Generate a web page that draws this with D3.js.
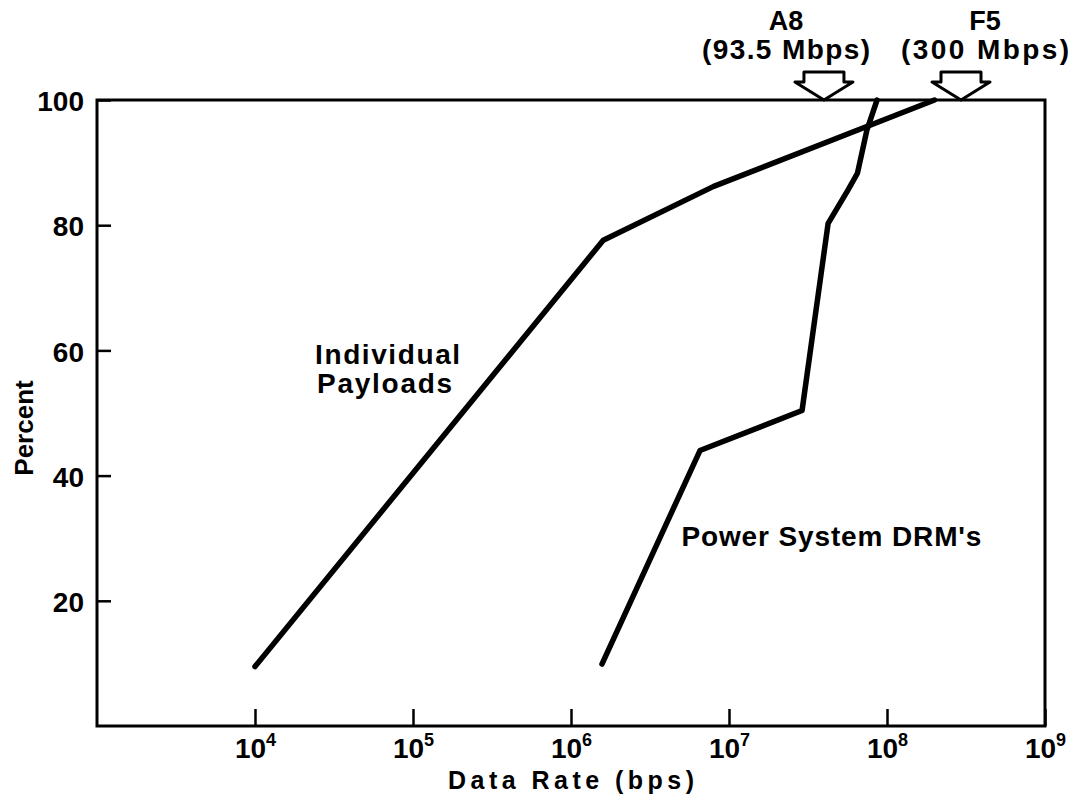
<!DOCTYPE html>
<html>
<head>
<meta charset="utf-8">
<script src="https://cdn.jsdelivr.net/npm/d3@7"></script>
<style>
    body { margin: 0; background: #fff; }
    svg { display: block; font-family: "Liberation Sans", Arial, Helvetica, sans-serif; font-weight: bold; }
</style>
</head>
<body>
<div id="chart"></div>
<script>
// values
const xTickValues = [1e4, 1e5, 1e6, 1e7, 1e8, 1e9];
const yTickValues = [20, 40, 60, 80, 100];

// Individual Payloads curve
const payloadRate = [1e4, 1.6e6, 8e6, 2e8];
const payloadPercent = [9.5, 77.6, 86.2, 100];

// Power System DRM's curve
const drmRate = [1.57e6, 6.55e6, 2.9e7, 4.24e7, 5.66e7, 6.5e7, 7.46e7, 8.65e7];
const drmPercent = [9.9, 44, 50.4, 80.3, 85.6, 88.3, 95.2, 100];

// arrows on the top edge
const markerNames = ["A8", "F5"];
const markerRates = ["(93.5 Mbps)", "(300 Mbps)"];
const markerValues = [3.99e7, 2.94e8];

const width = 1074;
const height = 802;

const svg = d3.select("#chart")
    .append("svg")
    .attr("width", width)
    .attr("height", height);

// scales
const x = d3.scaleLog()
    .domain([1e3, 1e9])
    .range([97, 1045]);

const y = d3.scaleLinear()
    .domain([0, 100])
    .range([726, 100]);

const x0 = x.range()[0], x1 = x.range()[1];
const y0 = y.range()[0], y1 = y.range()[1];

// frame
svg.append("rect")
    .attr("x", x0)
    .attr("y", y1)
    .attr("width", x1 - x0)
    .attr("height", y0 - y1)
    .attr("fill", "none")
    .attr("stroke", "#000")
    .attr("stroke-width", 3);

// y axis, ticks pointing inward
svg.append("g")
    .attr("transform", `translate(${x0},0)`)
    .call(d3.axisLeft(y).tickValues(yTickValues).tickSize(-14).tickPadding(13))
    .attr("font-family", null)
    .attr("font-size", null)
    .call(g => g.select(".domain").remove())
    .call(g => g.selectAll(".tick line").attr("stroke", "#000").attr("stroke-width", 2.5))
    .call(g => g.selectAll(".tick text")
        .attr("fill", "#000")
        .attr("font-size", 28)
        .attr("dy", "0.38em"));

// x axis, ticks pointing up, labels as powers of ten
svg.append("g")
    .attr("transform", `translate(0,${y0})`)
    .call(d3.axisBottom(x).tickValues(xTickValues).tickSize(-17).tickFormat(""))
    .attr("font-family", null)
    .attr("font-size", null)
    .call(g => g.select(".domain").remove())
    .call(g => g.selectAll(".tick line").attr("stroke", "#000").attr("stroke-width", 2.5))
    .call(g => g.selectAll(".tick text")
        .attr("fill", "#000")
        .attr("y", 32)
        .attr("dy", 0)
        .each(function(d) {
            const t = d3.select(this);
            t.append("tspan").attr("font-size", 28).text("10");
            t.append("tspan")
                .attr("font-size", 18)
                .attr("dy", -12)
                .text(Math.round(Math.log10(d)));
        }));

// axis titles
svg.append("text")
    .attr("x", (x0 + x1) / 2)
    .attr("y", 789)
    .attr("text-anchor", "middle")
    .attr("font-size", 25)
    .attr("textLength", 246)
    .attr("lengthAdjust", "spacing")
    .text("Data Rate (bps)");

svg.append("text")
    .attr("transform", `translate(33,${(y0 + y1) / 2 + 15}) rotate(-90)`)
    .attr("text-anchor", "middle")
    .attr("font-size", 26)
    .text("Percent");

// curves
const line = d3.line()
    .x(d => x(d[0]))
    .y(d => y(d[1]));

const curves = [
    d3.zip(payloadRate, payloadPercent),
    d3.zip(drmRate, drmPercent)
];

svg.selectAll(".curve")
    .data(curves)
    .enter()
    .append("path")
    .attr("class", "curve")
    .attr("d", line)
    .attr("fill", "none")
    .attr("stroke", "#000")
    .attr("stroke-width", 5.5)
    .attr("stroke-linejoin", "round")
    .attr("stroke-linecap", "round");

// curve labels
const payloadLabel = svg.append("text")
    .attr("x", x(2.4e4))
    .attr("font-size", 28);
payloadLabel.append("tspan")
    .attr("x", x(2.4e4))
    .attr("y", y(57.9))
    .attr("textLength", 145)
    .attr("lengthAdjust", "spacing")
    .text("Individual");
payloadLabel.append("tspan")
    .attr("x", x(2.4e4) + 2)
    .attr("y", y(57.9) + 29)
    .attr("textLength", 135)
    .attr("lengthAdjust", "spacing")
    .text("Payloads");

svg.append("text")
    .attr("x", x(5.0e6))
    .attr("y", y(28.8))
    .attr("font-size", 28)
    .attr("textLength", 300)
    .attr("lengthAdjust", "spacing")
    .text("Power System DRM's");

// open arrows sitting on the top edge
const arrowShape = "M-20,-28 L20,-28 L20,-18 L29,-18 L0,0 L-29,-18 L-20,-18 Z";
const labelShift = [-38, 24];

const markers = svg.selectAll(".marker")
    .data(markerValues)
    .enter()
    .append("g")
    .attr("class", "marker")
    .attr("transform", d => `translate(${x(d)},${y(100)})`);

markers.append("path")
    .attr("d", arrowShape)
    .attr("fill", "#fff")
    .attr("stroke", "#000")
    .attr("stroke-width", 3)
    .attr("stroke-linejoin", "round");

markers.append("text")
    .attr("x", (d, i) => labelShift[i])
    .attr("y", -70)
    .attr("text-anchor", "middle")
    .attr("font-size", 27)
    .text((d, i) => markerNames[i]);

markers.append("text")
    .attr("x", (d, i) => labelShift[i])
    .attr("y", -41)
    .attr("text-anchor", "middle")
    .attr("font-size", 28)
    .attr("textLength", 168)
    .attr("lengthAdjust", "spacing")
    .text((d, i) => markerRates[i]);
</script>
</body>
</html>
